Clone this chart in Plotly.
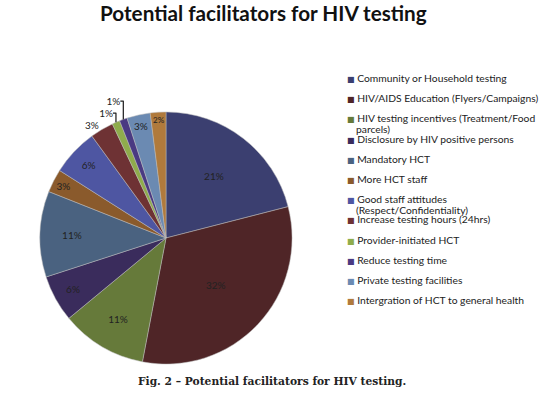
import plotly.graph_objects as go

categories = [
    "Community or Household testing",
    "HIV/AIDS Education (Flyers/Campaigns)",
    "HIV testing incentives (Treatment/Food<br>parcels)",
    "Disclosure by HIV positive persons",
    "Mandatory HCT",
    "More HCT staff",
    "Good staff attitudes<br>(Respect/Confidentiality)",
    "Increase testing hours (24hrs)",
    "Provider-initiated HCT",
    "Reduce testing time",
    "Private testing facilities",
    "Intergration of HCT to general health",
]
values = [21, 32, 11, 6, 11, 3, 6, 3, 1, 1, 3, 2]
colors = ["#3b3f70", "#4f2527", "#667a3a", "#3a2c5c", "#4a6280", "#8a5a2c",
          "#4e56a2", "#6e3234", "#8fac4c", "#4a3a82", "#6b8ab2", "#b07a3c"]
positions = ["inside", "inside", "inside", "inside", "inside", "inside",
             "inside", "outside", "outside", "outside", "inside", "inside"]

W, H = 547, 397

fig = go.Figure(go.Pie(
    labels=categories,
    values=values,
    sort=False,
    direction="clockwise",
    rotation=0,
    marker=dict(colors=colors, line=dict(color="#bbbbbb", width=0.5)),
    texttemplate="%{percent:.0%}",
    textposition=positions,
    insidetextorientation="horizontal",
    textfont=dict(family="Lato", size=10, color="#222222"),
    outsidetextfont=dict(family="Lato", size=10, color="#222222"),
    domain=dict(x=[0.073, 0.534], y=[0.083, 0.718]),
    showlegend=False,
    hoverinfo="label+percent",
))

# custom legend (text annotations), laid out like the reference
annotations = []
leg_x_px = 345
cont_x_px = 354
first_center_px = 78
step_px = 20.2
line_px = 10.5
for i, (lab, col) in enumerate(zip(categories, colors)):
    yc = first_center_px + i * step_px
    parts = lab.split("<br>")
    first = ("<span style='color:%s;font-size:8px;font-family:DejaVu Sans'>\u25a0</span> %s"
             % (col, parts[0]))
    annotations.append(dict(
        text=first, x=leg_x_px / W, y=1 - yc / H,
        xref="paper", yref="paper", xanchor="left", yanchor="middle", align="left",
        showarrow=False, font=dict(family="Lato", size=10.3, color="#222222")))
    for j, part in enumerate(parts[1:], start=1):
        annotations.append(dict(
            text=part, x=cont_x_px / W, y=1 - (yc + j * line_px) / H,
            xref="paper", yref="paper", xanchor="left", yanchor="middle", align="left",
            showarrow=False, font=dict(family="Lato", size=10.3, color="#222222")))

annotations.append(dict(
    text="<b>Potential facilitators for HIV testing</b>", x=0.481, y=1 - 13 / H,
    xref="paper", yref="paper", xanchor="center", yanchor="middle",
    showarrow=False, font=dict(family="Lato", size=20.7, color="#111111")))
annotations.append(dict(
    text="<b>Fig. 2 \u2013 Potential facilitators for HIV testing.</b>", x=0.498, y=1 - 381 / H,
    xref="paper", yref="paper", xanchor="center", yanchor="middle",
    showarrow=False, font=dict(family="DejaVu Serif", size=10.7, color="#222222")))

fig.update_layout(
    width=W, height=H,
    margin=dict(l=0, r=0, t=0, b=0),
    paper_bgcolor="white",
    plot_bgcolor="white",
    showlegend=False,
    annotations=annotations,
)

fig.write_html("out.html", config={"displayModeBar": False},
               post_script="document.body.style.margin='0';")
